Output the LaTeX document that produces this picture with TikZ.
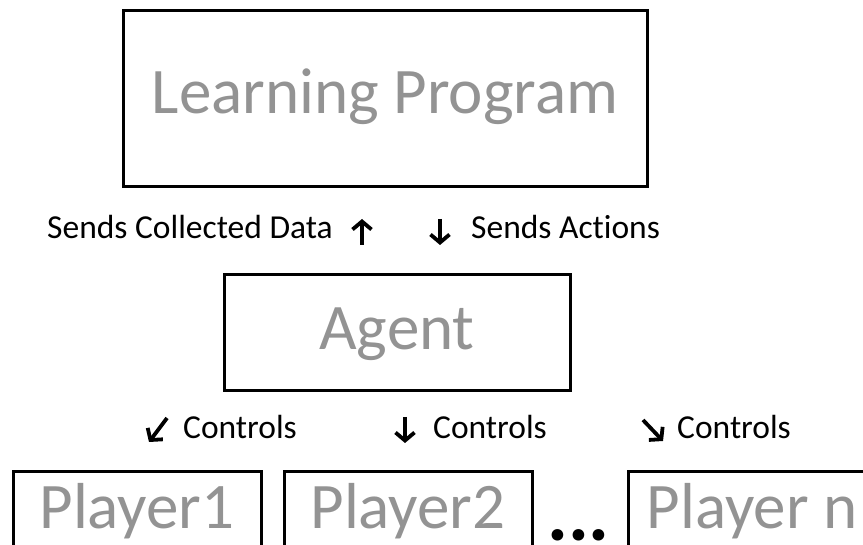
\documentclass[tikz,border=0pt]{standalone}
\usepackage{fontspec}
\setmainfont{Carlito}[Ligatures=NoCommon]
\usetikzlibrary{arrows.meta}
\definecolor{bigtxt}{HTML}{939393}
\begin{document}
\begin{tikzpicture}[x=1pt,y=-1pt,
  frame/.style={draw=black, line width=3pt, inner sep=0pt},
  bigtext/.style={text=bigtxt, font=\fontsize{65}{78}\selectfont, anchor=base, inner sep=0pt},
  lbl/.style={text=black, font=\fontsize{33.5}{40}\selectfont, inner sep=0pt},
  glyph/.style={line width=3.8pt, -{Straight Barb[length=8pt,width=19pt]}}]
\useasboundingbox (0,0) rectangle (863,545);
\clip (0,0) rectangle (863,545);
% boxes
\node[frame, minimum width=524pt, minimum height=176pt] (lp) at (385,99) {};
\node[bigtext] (lpt) at (385,114) {Learning Program};
\node[frame, minimum width=346pt, minimum height=116pt] (ag) at (397,333) {};
\node[bigtext] (agt) at (397,350) {Agent};
\node[frame, minimum width=248pt, minimum height=130pt] (p1) at (137,537) {};
\node[bigtext] (p1t) at (137,529) {Player1};
\node[frame, minimum width=248pt, minimum height=130pt] (p2) at (408,537) {};
\node[bigtext] (p2t) at (408,529) {Player2};
\node[frame, minimum width=248pt, minimum height=130pt] (pn) at (752,537) {};
\node[bigtext] (pnt) at (752,529) {Player n};
\node[text=black, font=\fontsize{78}{80}\selectfont\bfseries, text depth=0pt, text height=14pt, anchor=base west, inner sep=0pt] (dots) at (547,540) {...};
% labels
\node[lbl, anchor=base east] (scd) at (333,239) {Sends Collected Data};
\coordinate (u1) at (362,245); \coordinate (u2) at (362,219);
\draw[glyph] (u1) -- (u2);
\coordinate (d1) at (440,219); \coordinate (d2) at (440,245);
\draw[glyph] (d1) -- (d2);
\node[lbl, anchor=base west] (sa) at (471,239) {Sends Actions};
% controls
\coordinate (c1a) at (167,418); \coordinate (c1b) at (149,442);
\draw[glyph] (c1a) -- (c1b);
\node[lbl, anchor=base west] (ct1) at (183,439) {Controls};
\coordinate (c2a) at (405,417); \coordinate (c2b) at (405,443);
\draw[glyph] (c2a) -- (c2b);
\node[lbl, anchor=base west] (ct2) at (433,439) {Controls};
\coordinate (c3a) at (643,420); \coordinate (c3b) at (663,441);
\draw[glyph] (c3a) -- (c3b);
\node[lbl, anchor=base west] (ct3) at (677,439) {Controls};
\end{tikzpicture}
\end{document}
